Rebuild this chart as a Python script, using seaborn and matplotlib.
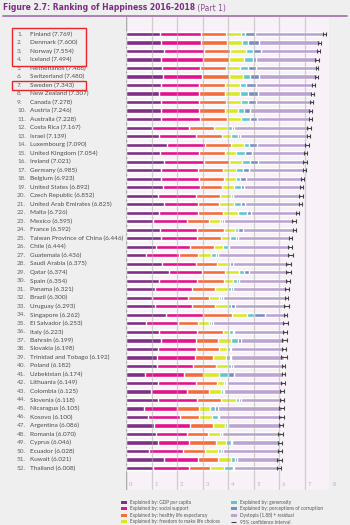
import numpy as np
import pandas as pd
import seaborn as sns
import matplotlib
matplotlib.use("Agg")
import matplotlib.pyplot as plt
from matplotlib.transforms import blended_transform_factory
from matplotlib.patches import Patch

countries = ["Finland", "Denmark", "Norway", "Iceland", "Netherlands", "Switzerland", "Sweden",
             "New Zealand", "Canada", "Austria", "Australia", "Costa Rica", "Israel", "Luxembourg",
             "United Kingdom", "Ireland", "Germany", "Belgium", "United States", "Czech Republic",
             "United Arab Emirates", "Malta", "Mexico", "France", "Taiwan Province of China", "Chile",
             "Guatemala", "Saudi Arabia", "Qatar", "Spain", "Panama", "Brazil", "Uruguay", "Singapore",
             "El Salvador", "Italy", "Bahrain", "Slovakia", "Trinidad and Tobago", "Poland", "Uzbekistan",
             "Lithuania", "Colombia", "Slovenia", "Nicaragua", "Kosovo", "Argentina", "Romania", "Cyprus",
             "Ecuador", "Kuwait", "Thailand"]

score = [7.769, 7.600, 7.554, 7.494, 7.488, 7.480, 7.343, 7.307, 7.278, 7.246, 7.228, 7.167, 7.139,
         7.090, 7.054, 7.021, 6.985, 6.923, 6.892, 6.852, 6.825, 6.726, 6.595, 6.592, 6.446, 6.444,
         6.436, 6.375, 6.374, 6.354, 6.321, 6.300, 6.293, 6.262, 6.253, 6.223, 6.199, 6.198, 6.192,
         6.182, 6.174, 6.149, 6.125, 6.118, 6.105, 6.100, 6.086, 6.070, 6.046, 6.028, 6.021, 6.008]

gdp = [1.340, 1.383, 1.488, 1.380, 1.396, 1.452, 1.387, 1.303, 1.365, 1.376, 1.372, 1.034, 1.276,
       1.609, 1.333, 1.499, 1.373, 1.356, 1.433, 1.269, 1.503, 1.300, 1.070, 1.324, 1.368, 1.159,
       0.800, 1.403, 1.684, 1.286, 1.149, 1.004, 1.124, 1.572, 0.794, 1.294, 1.362, 1.246, 1.231,
       1.206, 0.745, 1.238, 0.985, 1.258, 0.694, 0.882, 1.092, 1.162, 1.263, 0.912, 1.500, 1.050]

social = [1.587, 1.573, 1.582, 1.624, 1.522, 1.526, 1.487, 1.557, 1.505, 1.475, 1.548, 1.441, 1.455,
          1.479, 1.538, 1.553, 1.454, 1.504, 1.457, 1.487, 1.310, 1.520, 1.323, 1.472, 1.430, 1.369,
          1.269, 1.357, 1.313, 1.484, 1.442, 1.439, 1.465, 1.463, 1.242, 1.488, 1.368, 1.504, 1.477,
          1.438, 1.529, 1.515, 1.410, 1.523, 1.325, 1.232, 1.432, 1.232, 1.223, 1.312, 1.319, 1.409]

health = [0.986, 0.996, 1.028, 1.026, 0.999, 1.052, 1.009, 1.026, 1.039, 1.016, 1.036, 0.963, 1.029,
          1.012, 0.996, 0.999, 0.987, 0.986, 0.874, 0.920, 0.825, 0.999, 0.861, 1.045, 0.914, 0.920,
          0.746, 0.795, 0.871, 1.062, 0.910, 0.802, 0.891, 1.141, 0.789, 1.039, 0.871, 0.881, 0.713,
          0.884, 0.756, 0.818, 0.841, 0.953, 0.835, 0.758, 0.881, 0.825, 1.042, 0.868, 0.808, 0.828]

freedom = [0.596, 0.592, 0.603, 0.591, 0.557, 0.572, 0.574, 0.585, 0.584, 0.532, 0.557, 0.558, 0.371,
           0.526, 0.450, 0.516, 0.495, 0.473, 0.454, 0.457, 0.598, 0.564, 0.433, 0.436, 0.351, 0.357,
           0.535, 0.439, 0.555, 0.362, 0.516, 0.390, 0.523, 0.556, 0.430, 0.231, 0.536, 0.334, 0.489,
           0.483, 0.631, 0.291, 0.470, 0.564, 0.435, 0.489, 0.471, 0.462, 0.406, 0.498, 0.493, 0.557]

generosity = [0.153, 0.252, 0.271, 0.354, 0.322, 0.263, 0.267, 0.330, 0.285, 0.244, 0.332, 0.144, 0.261,
              0.194, 0.348, 0.298, 0.261, 0.160, 0.280, 0.046, 0.262, 0.375, 0.074, 0.111, 0.242, 0.187,
              0.175, 0.080, 0.220, 0.153, 0.109, 0.099, 0.127, 0.271, 0.093, 0.158, 0.255, 0.121, 0.185,
              0.117, 0.322, 0.043, 0.099, 0.144, 0.200, 0.262, 0.066, 0.083, 0.190, 0.126, 0.142, 0.359]

corruption = [0.393, 0.410, 0.341, 0.118, 0.298, 0.343, 0.373, 0.380, 0.308, 0.226, 0.290, 0.093, 0.082,
              0.316, 0.278, 0.310, 0.265, 0.210, 0.128, 0.036, 0.182, 0.151, 0.073, 0.183, 0.097, 0.056,
              0.078, 0.132, 0.167, 0.079, 0.054, 0.086, 0.150, 0.453, 0.074, 0.030, 0.110, 0.014, 0.016,
              0.050, 0.240, 0.042, 0.034, 0.057, 0.127, 0.006, 0.050, 0.005, 0.041, 0.087, 0.097, 0.028]

ci_half = [0.06, 0.06, 0.06, 0.08, 0.05, 0.06, 0.06, 0.06, 0.05, 0.06, 0.06, 0.08, 0.06, 0.07, 0.06,
           0.07, 0.06, 0.06, 0.06, 0.07, 0.06, 0.07, 0.09, 0.06, 0.06, 0.08, 0.10, 0.10, 0.10, 0.06,
           0.09, 0.06, 0.08, 0.07, 0.09, 0.08, 0.10, 0.09, 0.13, 0.07, 0.07, 0.08, 0.08, 0.07, 0.09,
           0.10, 0.08, 0.09, 0.09, 0.08, 0.10, 0.08]

component_names = ["Explained by: GDP per capita", "Explained by: social support",
                   "Explained by: healthy life expectancy", "Explained by: freedom to make life choices",
                   "Explained by: generosity", "Explained by: perceptions of corruption",
                   "Dystopia (1.88) + residual"]
component_colors = ["#7f2f86", "#e2128d", "#f26c3c", "#d9e826", "#5fc7cc", "#7a8cc6", "#bca3d0"]

title_bold = "Figure 2.7: Ranking of Happiness 2016-2018"
title_light = " (Part 1)"
x_ticks = [0, 1, 2, 3, 4, 5, 6, 7, 8]

# ---------- data frame ----------
df = pd.DataFrame({"country": countries, "score": score, "gdp": gdp, "social": social,
                   "health": health, "freedom": freedom, "generosity": generosity,
                   "corruption": corruption, "ci": ci_half})
parts = ["gdp", "social", "health", "freedom", "generosity", "corruption"]
df["dystopia"] = df["score"] - df[parts].sum(axis=1)
cum_cols = parts + ["dystopia"]
cum = df[cum_cols].cumsum(axis=1)

# ---------- figure ----------
sns.set_style("white")
plt.rcParams["font.family"] = ["Lato", "DejaVu Sans"]
fig = plt.figure(figsize=(3.5, 5.25), dpi=100, facecolor="#efefef")
ax = fig.add_axes([126 / 350, 1 - 490 / 525, 204 / 350, 473 / 525])
ax.set_facecolor("#f8f1f8")

for col, color in zip(reversed(cum_cols), reversed(component_colors)):
    sns.barplot(x=cum[col], y=df["country"], orient="h", color=color, width=0.5,
                saturation=1, ax=ax, order=countries, zorder=2)

ax.errorbar(df["score"], np.arange(len(df)), xerr=df["ci"], fmt="none", ecolor="#444444",
            elinewidth=0.8, capsize=1.2, capthick=0.8, zorder=5)

ax.set_xlim(0, 8)
ax.set_ylim(53.58, -2.0)
ax.set_xticks(x_ticks)
ax.xaxis.grid(True, color="#b0b0b0", linewidth=0.9, alpha=0.55, zorder=3)
ax.set_axisbelow(False)
ax.tick_params(left=False, bottom=False, labelleft=False, labelbottom=False)
ax.set_xlabel("")
ax.set_ylabel("")
for s in ax.spines.values():
    s.set_visible(False)
ax.axvline(0, color="#a8a8a8", linewidth=1.0, zorder=0.5)

for t in x_ticks:
    ax.text(t + 0.12, 52.9, str(t), fontsize=4.3, color="#b8b8b8", va="center", ha="left")

# ---------- left labels ----------
tr = blended_transform_factory(fig.transFigure, ax.transData)
for i, (c, s) in enumerate(zip(countries, score)):
    ax.text(17 / 350, i, f"{i + 1}.", transform=tr, fontsize=4.6, color="#666666",
            va="center", ha="left")
    ax.text(30 / 350, i, f"{c} ({s:.3f})", transform=tr, fontsize=4.6, color="#4a4a4a",
            va="center", ha="left")

# red highlight boxes
for (y0, y1) in [(28, 66), (81, 90)]:
    fig.add_artist(plt.Rectangle((12 / 350, 1 - y1 / 525), 74 / 350, (y1 - y0) / 525,
                                 transform=fig.transFigure, fill=False, edgecolor="#e8252b",
                                 linewidth=1.0))

# ---------- title ----------
t1 = fig.text(3 / 350, 1 - 8 / 525, title_bold, fontsize=5.5, fontweight="bold",
              color="#7d2b85", va="center", ha="left", family=["DejaVu Sans"])
fig.canvas.draw()
bb = t1.get_window_extent()
fig.text(bb.x1 / 350, 1 - 8 / 525, title_light, fontsize=5.5, color="#8a4a91",
         va="center", ha="left", family=["DejaVu Sans"])
fig.add_artist(plt.Line2D([3 / 350, 347 / 350], [1 - 16 / 525, 1 - 16 / 525],
                          transform=fig.transFigure, color="#a878b0", linewidth=1.3))

# ---------- legend ----------
handles = [Patch(facecolor=c, edgecolor="none") for c in component_colors]
eb = ax.errorbar([], [], xerr=[], fmt="none", ecolor="#444444", elinewidth=0.8, capsize=1.2)
labels = component_names + ["95% confidence interval"]
leg = fig.legend(handles + [eb], labels, loc="upper left", bbox_to_anchor=(121 / 350, 1 - 500 / 525),
                 ncol=2, fontsize=3.4, frameon=False, handlelength=1.3, handleheight=0.6,
                 labelspacing=0.3, columnspacing=2.2, handletextpad=0.7, borderaxespad=0,
                 borderpad=0, labelcolor="#555555")

fig.savefig("out.png", dpi=100, facecolor=fig.get_facecolor())
